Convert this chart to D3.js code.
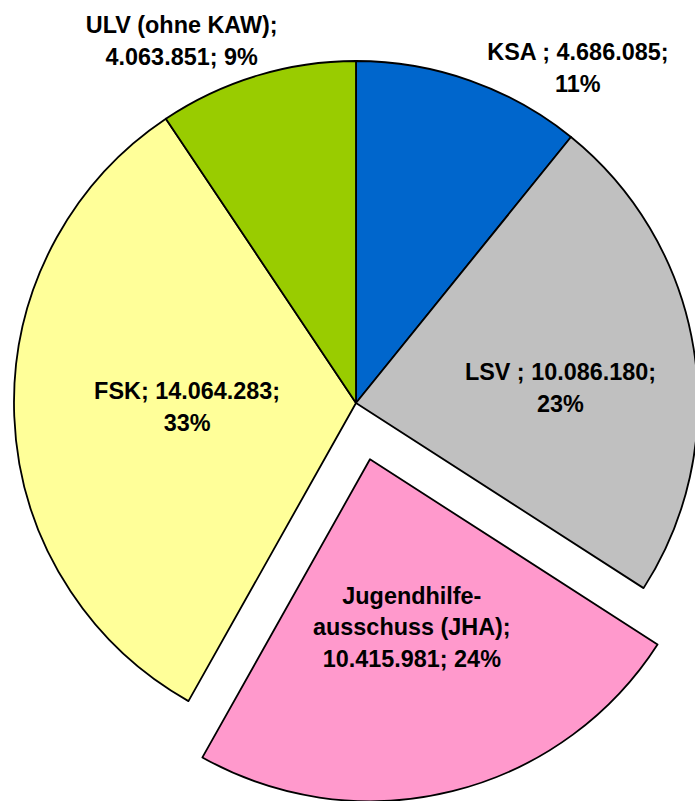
<!DOCTYPE html>
<html>
<head>
<meta charset="utf-8">
<script src="https://cdn.jsdelivr.net/npm/d3@7"></script>
<style>
  html, body { margin: 0; padding: 0; background: #fff; }
  svg { display: block; }
  text { font-family: "Liberation Sans", Arial, sans-serif; font-weight: bold; fill: #000; }
</style>
</head>
<body>
<div id="chart"></div>
<script>
// slices clockwise from 12 o'clock
const names = ["KSA", "LSV", "JHA", "FSK", "ULV"];
const values = [4686085, 10086180, 10415981, 14064283, 4063851];
const colors = ["#0066CC", "#C0C0C0", "#FF99CC", "#FFFF99", "#99CC00"];
const labelLines = [
  ["KSA ; 4.686.085;", "11%"],
  ["LSV ; 10.086.180;", "23%"],
  ["Jugendhilfe-", "ausschuss (JHA);", "10.415.981; 24%"],
  ["FSK; 14.064.283;", "33%"],
  ["ULV (ohne KAW);", "4.063.851; 9%"]
];
const exploded = ["JHA"];

// label placement: [distance from slice center, angle in degrees]
const labelPolar = [[402, 33.5], [205, 85.8], [173, 166], [169, 268.6], [402, -25.7]];

const width = 695, height = 801;
const cx = 356, cy = 403, radius = 342, explode = 58;
const lineH = 31.8, fontSize = 23.4;

const svg = d3.select("#chart").append("svg")
  .attr("width", width)
  .attr("height", height);

const pie = d3.pie().sort(null).value(d => d)(values);
const arc = d3.arc().innerRadius(0).outerRadius(radius);

const g = svg.append("g").attr("transform", `translate(${cx},${cy})`);

const slices = g.selectAll("g.slice")
  .data(pie)
  .enter().append("g")
  .attr("class", "slice")
  .attr("transform", (d, i) => {
    if (!exploded.includes(names[i])) return null;
    const a = (d.startAngle + d.endAngle) / 2;
    return `translate(${explode * Math.sin(a)},${-explode * Math.cos(a)})`;
  });

slices.append("path")
  .attr("d", arc)
  .attr("fill", (d, i) => colors[i])
  .attr("stroke", "#000")
  .attr("stroke-width", 1.8)
  .attr("stroke-linejoin", "round");

slices.each(function(d, i) {
  const lines = labelLines[i];
  const [r, deg] = labelPolar[i];
  const a = deg * Math.PI / 180;
  const x = r * Math.sin(a), y = -r * Math.cos(a);
  const t = d3.select(this).append("text")
    .attr("text-anchor", "middle")
    .attr("font-size", fontSize);
  const y0 = y - (lines.length - 1) * lineH / 2 + fontSize * 0.35;
  lines.forEach((s, k) => {
    t.append("tspan").attr("x", x).attr("y", y0 + k * lineH).text(s);
  });
});
</script>
</body>
</html>
